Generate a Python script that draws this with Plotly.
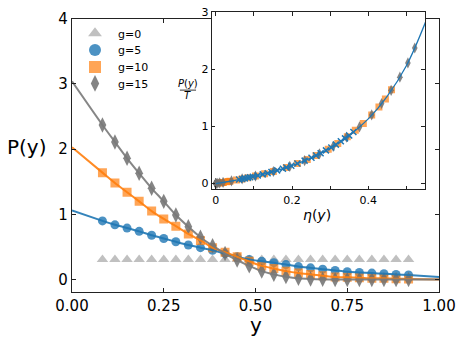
import plotly.graph_objects as go

# sample positions (shared by all g)
y_pts = [0.083, 0.117, 0.150, 0.183, 0.217, 0.250, 0.283, 0.317, 0.350, 0.383,
         0.417, 0.450, 0.483, 0.517, 0.550, 0.583, 0.617, 0.650, 0.683, 0.717,
         0.750, 0.783, 0.817, 0.850, 0.883, 0.917]

p_g0 = [0.31] * 26
p_g5 = [0.90, 0.84, 0.79, 0.74, 0.68, 0.63, 0.58, 0.53, 0.49, 0.45,
        0.40, 0.35, 0.31, 0.28, 0.26, 0.23, 0.20, 0.18, 0.16, 0.14,
        0.12, 0.11, 0.10, 0.09, 0.08, 0.07]
p_g10 = [1.64, 1.48, 1.34, 1.20, 1.05, 0.93, 0.82, 0.70, 0.60, 0.49,
         0.42, 0.35, 0.28, 0.21, 0.17, 0.13, 0.10, 0.08, 0.06, 0.04,
         0.035, 0.03, 0.02, 0.02, 0.015, 0.01]
p_g15 = [2.37, 2.11, 1.86, 1.63, 1.40, 1.20, 0.99, 0.81, 0.65, 0.52,
         0.40, 0.30, 0.21, 0.13, 0.08, 0.045, 0.02, 0.01, 0.005, 0.0,
         0.0, 0.0, 0.0, 0.0, 0.0, 0.0]

# curve end points (y=0 and y=1)
line_y = [0.0] + y_pts + [1.0]
line_g5 = [1.06] + p_g5 + [0.04]
line_g10 = [2.03] + p_g10 + [0.0]
line_g15 = [3.04] + p_g15 + [0.0]

# inset: packing fraction eta(y) for each sample
eta_g5 = [0.361, 0.350, 0.339, 0.328, 0.315, 0.303, 0.289, 0.275, 0.263, 0.251,
          0.233, 0.214, 0.198, 0.185, 0.176, 0.161, 0.146, 0.136, 0.123, 0.110,
          0.097, 0.090, 0.084, 0.076, 0.069, 0.061]
eta_g10 = [0.461, 0.445, 0.428, 0.409, 0.387, 0.366, 0.345, 0.320, 0.295, 0.263,
           0.240, 0.214, 0.185, 0.151, 0.128, 0.104, 0.084, 0.069, 0.054, 0.037,
           0.033, 0.028, 0.019, 0.019, 0.014, 0.010]
eta_g15 = [0.522, 0.504, 0.483, 0.460, 0.435, 0.409, 0.377, 0.343, 0.308, 0.272,
           0.233, 0.194, 0.151, 0.104, 0.069, 0.041, 0.019, 0.010, 0.005, 0.0,
           0.0, 0.0, 0.0, 0.0, 0.0, 0.0]

# equation of state curve in the inset
eos_eta = [0.0, 0.05, 0.10, 0.15, 0.20, 0.25, 0.30, 0.35, 0.40, 0.45, 0.50, 0.55]
eos_p = [0.0, 0.055, 0.124, 0.208, 0.314, 0.448, 0.62, 0.84, 1.13, 1.53, 2.06, 2.82]

BLUE = "#1f77b4"
ORANGE = "#ff7f0e"
GRAY = "#6e6e6e"
FONT = "DejaVu Sans"

fig = go.Figure()

# main panel -- one legend per entry so the rows can sit tighter than plotly's default
fig.add_trace(go.Scatter(x=y_pts, y=p_g0, mode="markers", name="g=0", legend="legend",
                         marker=dict(symbol="triangle-up", size=10, color="#c0c0c0")))
fig.add_trace(go.Scatter(x=y_pts, y=p_g5, mode="markers", name="g=5", legend="legend2",
                         marker=dict(symbol="circle", size=9, color=BLUE, opacity=0.8)))
fig.add_trace(go.Scatter(x=y_pts, y=p_g10, mode="markers", name="g=10", legend="legend3",
                         marker=dict(symbol="square", size=9, color=ORANGE, opacity=0.7)))
fig.add_trace(go.Scatter(x=y_pts, y=p_g15, mode="markers", name="g=15", legend="legend4",
                         marker=dict(symbol="diamond-tall", size=11, color=GRAY, opacity=0.85)))

for ys, col in [(line_g5, BLUE), (line_g10, ORANGE), (line_g15, "#7a7a7a")]:
    fig.add_trace(go.Scatter(x=line_y, y=ys, mode="lines", showlegend=False,
                             line=dict(color=col, width=2, shape="spline", smoothing=0.6),
                             opacity=0.9))

# inset
fig.add_trace(go.Scatter(x=eta_g10, y=p_g10, mode="markers", showlegend=False,
                         xaxis="x2", yaxis="y2",
                         marker=dict(symbol="square", size=7, color=ORANGE, opacity=0.7)))
fig.add_trace(go.Scatter(x=eta_g15, y=p_g15, mode="markers", showlegend=False,
                         xaxis="x2", yaxis="y2",
                         marker=dict(symbol="diamond-tall", size=8, color=GRAY, opacity=0.85)))
fig.add_trace(go.Scatter(x=eta_g5, y=p_g5, mode="markers", showlegend=False,
                         xaxis="x2", yaxis="y2",
                         marker=dict(symbol="x-thin", size=6, color=BLUE,
                                     line=dict(color=BLUE, width=1.5))))
fig.add_trace(go.Scatter(x=eos_eta, y=eos_p, mode="lines", showlegend=False,
                         xaxis="x2", yaxis="y2",
                         line=dict(color=BLUE, width=1.3, shape="spline")))

axis_common = dict(showgrid=False, zeroline=False, showline=True, mirror="ticks",
                   ticks="inside", tickcolor="#222", linecolor="#222", linewidth=1.2,
                   automargin=False)


def label(text, x, y, size):
    return dict(text=text, x=x, y=y, xref="paper", yref="paper", showarrow=False,
                xanchor="center", yanchor="middle", font=dict(size=size))


def legend_row(y):
    return dict(x=0.0, y=y, xanchor="left", yanchor="middle",
                bgcolor="rgba(0,0,0,0)", font=dict(size=11, family=FONT),
                itemsizing="constant", itemwidth=36)


fig.update_layout(
    template="none",
    width=463, height=342,
    margin=dict(l=72, r=24, t=12, b=50),
    paper_bgcolor="white", plot_bgcolor="white",
    font=dict(family=FONT, color="black"),
    xaxis=dict(axis_common, range=[0, 1], tickvals=[0, 0.25, 0.5, 0.75, 1.0],
               tickformat=".2f", ticklen=4, tickfont=dict(size=15), anchor="y"),
    yaxis=dict(axis_common, range=[-0.19, 4], domain=[0, 0.976], tickvals=[0, 1, 2, 3, 4],
               ticklen=4, tickfont=dict(size=15), anchor="x"),
    xaxis2=dict(axis_common, range=[-0.0105, 0.549], domain=[0.381, 0.962], anchor="y2",
                tickvals=[0, 0.2, 0.4], ticktext=["0", "0.2", "0.4"], ticklen=3.5,
                tickfont=dict(size=11),
                minor=dict(tickvals=[0.1, 0.3, 0.5], ticks="inside", ticklen=3.5, tickcolor="#222")),
    yaxis2=dict(axis_common, range=[-0.1, 3], domain=[0.367, 1.0], anchor="x2",
                tickvals=[0, 1, 2, 3], ticklen=3.5, tickfont=dict(size=11)),
    legend=legend_row(0.924),
    legend2=legend_row(0.864),
    legend3=legend_row(0.804),
    legend4=legend_row(0.745),
    annotations=[
        label("P(y)", -0.123, 0.517, 20),
        label("y", 0.5, -0.119, 20),
        label("<i>η</i>(<i>y</i>)", 0.667, 0.274, 14),
        label("<i>P</i>(<i>y</i>)", 0.3155, 0.745, 10),
        label("<i>T</i>", 0.3155, 0.702, 10),
    ],
    shapes=[dict(type="line", xref="paper", yref="paper", x0=0.294, x1=0.338,
                 y0=0.721, y1=0.721, line=dict(color="black", width=0.8))],
)

# drop the browser's default body margin so the figure sits at the page corner
fig.write_html("out.html", config={"displayModeBar": False},
               post_script="document.body.style.margin = '0';")
